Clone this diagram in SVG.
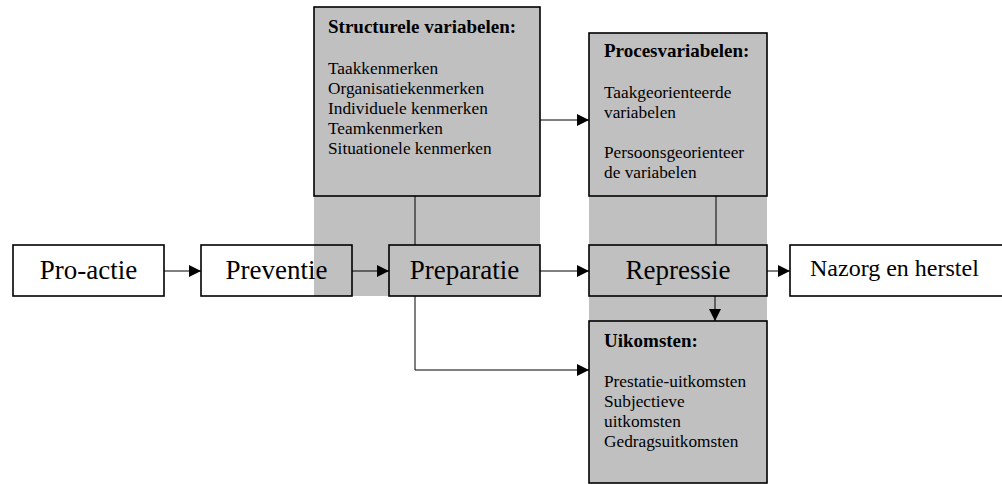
<svg xmlns="http://www.w3.org/2000/svg" width="1002" height="484" viewBox="0 0 1002 484">
<style>
.bg{fill:#c0c0c0;stroke:none}
.box{stroke:#000;stroke-width:1.6}
.w{fill:none}
.g{fill:#c0c0c0}
.big{font-family:"Liberation Serif","Times New Roman",serif;font-size:27px;fill:#000;text-anchor:middle}
.mid{font-family:"Liberation Serif","Times New Roman",serif;font-size:24px;fill:#000}
.t{font-family:"Liberation Serif","Times New Roman",serif;font-size:19px;font-weight:bold;fill:#000}
.b{font-family:"Liberation Serif","Times New Roman",serif;font-size:17.3px;fill:#000}
.c{stroke:#000;stroke-width:1;fill:none}
</style>
<defs>
<marker id="ah" viewBox="0 0 12 12" refX="12" refY="6" markerWidth="12" markerHeight="12" markerUnits="userSpaceOnUse" orient="auto">
<path d="M0,0 L12,6 L0,12 Z" fill="#000"/>
</marker>
</defs>
<rect class="bg" x="314" y="7" width="226" height="289"/>
<rect class="bg" x="589" y="33" width="178" height="450"/>
<g id="connectors">
<line class="c" x1="164" y1="271" x2="201" y2="271" marker-end="url(#ah)"/>
<line class="c" x1="352" y1="271" x2="389" y2="271" marker-end="url(#ah)"/>
<line class="c" x1="540" y1="271" x2="589" y2="271" marker-end="url(#ah)"/>
<line class="c" x1="767" y1="271" x2="790" y2="271" marker-end="url(#ah)"/>
<line class="c" x1="540" y1="120" x2="589" y2="120" marker-end="url(#ah)"/>
<line class="c" x1="415" y1="196" x2="415" y2="246"/>
<line class="c" x1="716" y1="196" x2="716" y2="246"/>
<line class="c" x1="715" y1="296" x2="715" y2="321" marker-end="url(#ah)"/>
<polyline class="c" points="415,296 415,370 589,370" marker-end="url(#ah)"/>
</g>
<g id="proactie">
<rect class="box w" x="13" y="245" width="151" height="51"/>
<text class="big" x="88.5" y="279">Pro-actie</text>
</g>
<g id="preventie">
<rect class="box w" x="201" y="245" width="151" height="51"/>
<text class="big" x="276.5" y="279">Preventie</text>
</g>
<g id="preparatie">
<rect class="box g" x="389" y="245" width="151" height="51"/>
<text class="big" x="464.5" y="279">Preparatie</text>
</g>
<g id="repressie">
<rect class="box g" x="589" y="245" width="178" height="51"/>
<text class="big" x="678" y="279">Repressie</text>
</g>
<g id="nazorg">
<rect class="box w" x="790" y="245" width="230" height="51"/>
<text class="mid" x="810" y="276">Nazorg en herstel</text>
</g>
<g id="structurele">
<rect class="box g" x="314" y="7" width="226" height="189"/>
<text class="t" x="328" y="33">Structurele variabelen:</text>
<text class="b" x="328" y="74">Taakkenmerken</text>
<text class="b" x="328" y="94">Organisatiekenmerken</text>
<text class="b" x="328" y="114">Individuele kenmerken</text>
<text class="b" x="328" y="134">Teamkenmerken</text>
<text class="b" x="328" y="154">Situationele kenmerken</text>
</g>
<g id="proces">
<rect class="box g" x="589" y="33" width="178" height="163"/>
<text class="t" x="604" y="57">Procesvariabelen:</text>
<text class="b" x="604" y="98">Taakgeorienteerde</text>
<text class="b" x="604" y="118">variabelen</text>
<text class="b" x="604" y="158">Persoonsgeorienteer</text>
<text class="b" x="604" y="178">de variabelen</text>
</g>
<g id="uitkomsten">
<rect class="box g" x="589" y="321" width="178" height="162"/>
<text class="t" x="604" y="347">Uikomsten:</text>
<text class="b" x="604" y="387">Prestatie-uitkomsten</text>
<text class="b" x="604" y="407">Subjectieve</text>
<text class="b" x="604" y="427">uitkomsten</text>
<text class="b" x="604" y="447">Gedragsuitkomsten</text>
</g>
</svg>
